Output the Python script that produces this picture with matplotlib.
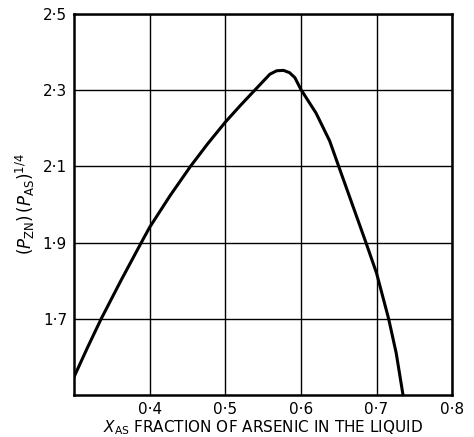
import matplotlib
matplotlib.use("Agg")
import matplotlib.pyplot as plt

# curve: arsenic fraction vs (P_Zn)(P_As)^1/4
x_as = [0.300, 0.318, 0.336, 0.362, 0.389, 0.400, 0.427, 0.454, 0.477, 0.500,
        0.520, 0.539, 0.559, 0.568, 0.577, 0.585, 0.592, 0.600, 0.620, 0.638,
        0.650, 0.668, 0.686, 0.700, 0.716, 0.726, 0.735]
p_val = [1.547, 1.625, 1.70, 1.80, 1.90, 1.94, 2.023, 2.10, 2.16, 2.216,
         2.26, 2.30, 2.342, 2.351, 2.352, 2.346, 2.333, 2.302, 2.24, 2.167,
         2.10, 2.00, 1.90, 1.82, 1.70, 1.61, 1.50]

x_ticks = [0.4, 0.5, 0.6, 0.7, 0.8]
x_labels = ["0·4", "0·5", "0·6", "0·7", "0·8"]
y_ticks = [1.7, 1.9, 2.1, 2.3, 2.5]
y_labels = ["1·7", "1·9", "2·1", "2·3", "2·5"]

plt.rcParams['font.family'] = ['DejaVu Sans']
plt.rcParams['mathtext.fontset'] = 'dejavusans'

fig = plt.figure(figsize=(4.74, 4.37), dpi=100)
ax = fig.add_axes([0.156, 0.096, 0.798, 0.872])

ax.plot(x_as, p_val, color='black', linewidth=2.2, solid_capstyle='butt')

ax.set_xlim(0.3, 0.8)
ax.set_ylim(1.5, 2.5)
ax.set_xticks(x_ticks)
ax.set_xticklabels(x_labels)
ax.set_yticks(y_ticks)
ax.set_yticklabels(y_labels)
ax.tick_params(length=0, labelsize=11, pad=5)
ax.grid(True, color='black', linewidth=1.0)

for s in ax.spines.values():
    s.set_linewidth(1.8)

ax.set_xlabel(r"$X_{\rm AS}$ FRACTION OF ARSENIC IN THE LIQUID",
              fontsize=11, labelpad=1)
ax.set_ylabel(r"$(P_{\rm ZN})\,(P_{\rm AS})^{1/4}$", fontsize=12, labelpad=4)

fig.savefig("out.png", dpi=100)
